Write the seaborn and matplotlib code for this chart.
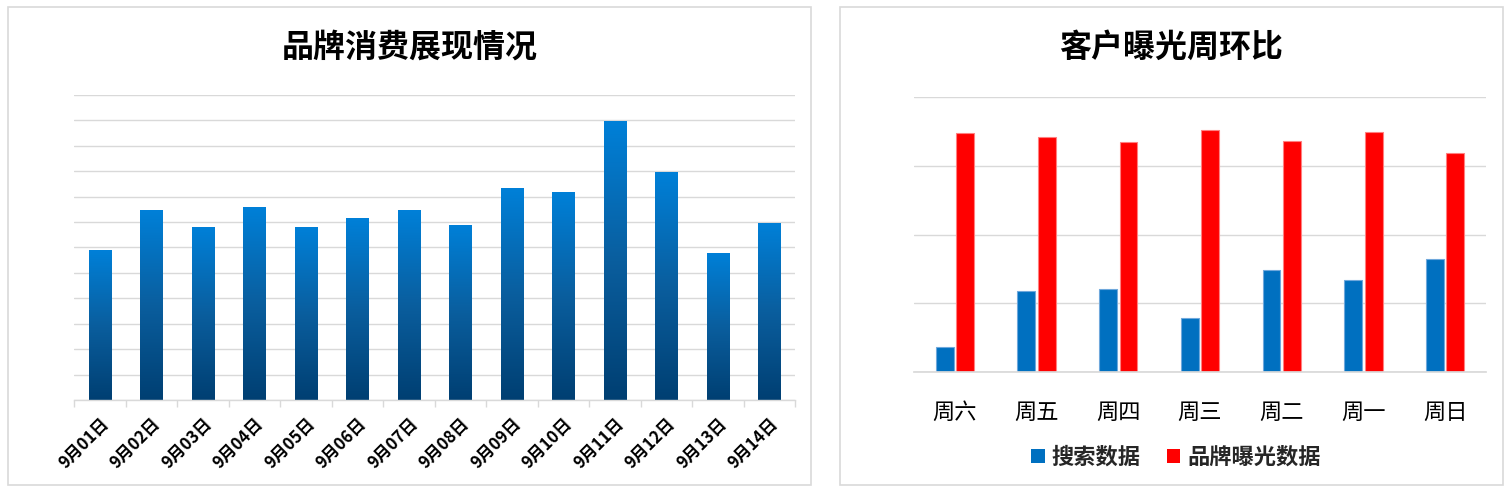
import numpy as np
import pandas as pd
import matplotlib
matplotlib.use("Agg")
import matplotlib.pyplot as plt
import seaborn as sns
from matplotlib.colors import LinearSegmentedColormap
from matplotlib.patches import Rectangle

# ---------------- data ----------------
dates = ["9月01日", "9月02日", "9月03日", "9月04日", "9月05日", "9月06日", "9月07日",
         "9月08日", "9月09日", "9月10日", "9月11日", "9月12日", "9月13日", "9月14日"]
spend = [5.9, 7.44, 6.8, 7.59, 6.77, 7.16, 7.44, 6.88, 8.34, 8.18, 10.94, 8.97, 5.78, 6.96]

weekdays = ["周六", "周五", "周四", "周三", "周二", "周一", "周日"]
search_data = [0.36, 1.18, 1.21, 0.78, 1.49, 1.34, 1.64]
brand_data = [3.47, 3.42, 3.34, 3.52, 3.36, 3.49, 3.18]
series_names = ["搜索数据", "品牌曝光数据"]

title_left = "品牌消费展现情况"
title_right = "客户曝光周环比"

# ---------------- style ----------------
sns.set_theme(style="white")
plt.rcParams['font.family'] = ['Noto Sans CJK SC', 'DejaVu Sans']
GRID = "#D9D9D9"

W, H = 1508, 490
fig = plt.figure(figsize=(W / 100, H / 100), dpi=100)
fig.patch.set_facecolor("white")

def fx(px):
    return px / W

def fy(py):
    return 1 - py / H

# panel frames
for (x0, x1) in [(8, 811), (840, 1503)]:
    fig.patches.append(Rectangle((fx(x0), fy(485)), fx(x1 - x0), (485 - 7) / H,
                                 transform=fig.transFigure, fill=False,
                                 edgecolor=GRID, linewidth=1.2, zorder=0))

# ---------------- left chart ----------------
axL = fig.add_axes([fx(74), fy(400), fx(795 - 74), (400 - 95) / H])
dfL = pd.DataFrame({"date": dates, "spend": spend})
sns.barplot(data=dfL, x="date", y="spend", ax=axL, color="#0078D4",
            width=0.43, errorbar=None, saturation=1)
axL.set_xlim(-0.5, len(dates) - 0.5)
axL.set_ylim(0, 12)
cmap = LinearSegmentedColormap.from_list("g", ["#003F72", "#0A5E9E", "#0080D8"])
grad = np.linspace(0, 1, 256).reshape(-1, 1)
for p in axL.patches:
    x, w, h = p.get_x(), p.get_width(), p.get_height()
    p.set_visible(False)
    axL.imshow(grad, extent=[x, x + w, 0, h], origin="lower", aspect="auto",
               cmap=cmap, zorder=2, interpolation="bilinear")
axL.set_xlim(-0.5, len(dates) - 0.5)
axL.set_ylim(0, 12)
axL.set_yticks(np.arange(0, 13, 1))
axL.set_yticklabels([])
axL.tick_params(axis="y", length=0)
axL.grid(axis="y", color=GRID, linewidth=1)
axL.set_axisbelow(True)
for s in ["top", "right", "left"]:
    axL.spines[s].set_visible(False)
axL.spines["bottom"].set_color(GRID)
axL.spines["bottom"].set_linewidth(1)
axL.set_xticks(np.arange(len(dates)))
axL.set_xticks(np.arange(-0.5, len(dates), 1), minor=True)
axL.tick_params(axis="x", which="major", length=0, pad=11)
axL.tick_params(axis="x", which="minor", length=5, color=GRID, width=1, bottom=True)
axL.set_xticklabels(dates, rotation=45, ha="right", rotation_mode="anchor",
                    fontsize=12, fontweight="bold", color="#000000")
axL.set_xlabel("")
axL.set_ylabel("")

fig.text(fx(410), fy(48), title_left, ha="center", va="center",
         fontsize=23, fontweight="bold", color="#000000")

# ---------------- right chart ----------------
axR = fig.add_axes([fx(914), fy(372), fx(1486 - 914), (372 - 97) / H])
dfR = pd.DataFrame({
    "day": weekdays * 2,
    "value": search_data + brand_data,
    "series": [series_names[0]] * len(weekdays) + [series_names[1]] * len(weekdays),
})
sns.barplot(data=dfR, x="day", y="value", hue="series", ax=axR,
            palette=["#0070C0", "#FF0000"], width=0.5, gap=0.12,
            errorbar=None, saturation=1, legend=False)
for p in axR.patches:
    fc = p.get_facecolor()
    edge = "#6FA8DC" if fc[2] > 0.5 else "#FF8080"
    p.set_edgecolor(edge)
    p.set_linewidth(0.8)
axR.set_xlim(-0.5, len(weekdays) - 0.5)
axR.set_ylim(0, 4)
axR.set_yticks(np.arange(0, 5, 1))
axR.set_yticklabels([])
axR.tick_params(axis="y", length=0)
axR.grid(axis="y", color=GRID, linewidth=1)
axR.set_axisbelow(True)
for s in ["top", "right", "left"]:
    axR.spines[s].set_visible(False)
axR.spines["bottom"].set_color(GRID)
axR.tick_params(axis="x", length=0, pad=21)
axR.set_xticks(np.arange(len(weekdays)))
axR.set_xticklabels(weekdays, fontsize=16, color="#000000")
axR.set_xlabel("")
axR.set_ylabel("")

handles = [Rectangle((0, 0), 1, 1, facecolor="#0070C0", edgecolor="none"),
           Rectangle((0, 0), 1, 1, facecolor="#FF0000", edgecolor="none")]
fig.legend(handles, series_names, loc="center", bbox_to_anchor=(fx(1176), fy(457)),
           ncol=2, frameon=False, handlelength=0.6, handleheight=0.6,
           handletextpad=0.3, columnspacing=1.2,
           prop={"family": ["Noto Sans CJK SC", "DejaVu Sans"], "weight": "bold", "size": 16})

fig.text(fx(1171), fy(48), title_right, ha="center", va="center",
         fontsize=23, fontweight="bold", color="#000000")

fig.savefig("out.png", dpi=100, facecolor="white")
